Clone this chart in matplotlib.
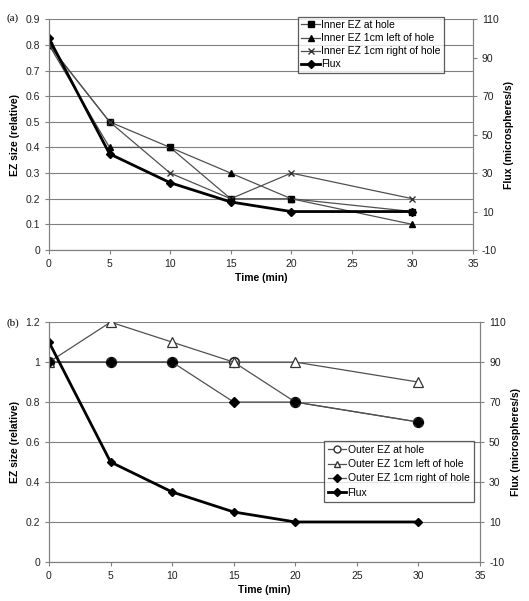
import matplotlib
matplotlib.use("Agg")
import matplotlib.pyplot as plt
from matplotlib.lines import Line2D

plt.rcParams['font.family'] = ['Liberation Sans', 'DejaVu Sans']
plt.rcParams['axes.unicode_minus'] = False

time = [0, 5, 10, 15, 20, 30]

# Panel (a)
inner_hole = [0.8, 0.5, 0.4, 0.2, 0.2, 0.15]
inner_left = [0.8, 0.4, 0.4, 0.3, 0.2, 0.1]
inner_right = [0.8, 0.5, 0.3, 0.2, 0.3, 0.2]
flux_a = [100, 40, 25, 15, 10, 10]

# Panel (b)
outer_hole = [1.0, 1.0, 1.0, 1.0, 0.8, 0.7]
outer_left = [1.0, 1.2, 1.1, 1.0, 1.0, 0.9]
outer_right = [1.0, 1.0, 1.0, 0.8, 0.8, 0.7]
flux_b = [100, 40, 25, 15, 10, 10]

fig = plt.figure(figsize=(5.29, 6.01), dpi=100)

GRAY = '#808080'
LINEC = '#505050'
FS = 7.5


def style_axes(ax, ax2, ylim, yticks, yfmt):
    ax.set_xlim(0, 35)
    ax.set_xticks(range(0, 36, 5))
    ax.set_ylim(*ylim)
    ax.set_yticks(yticks)
    ax.set_yticklabels([yfmt(v) for v in yticks])
    ax2.set_ylim(-10, 110)
    ax2.set_yticks(range(-10, 111, 20))
    for a in (ax, ax2):
        for s in a.spines.values():
            s.set_color(GRAY)
            s.set_linewidth(0.8)
        a.spines['top'].set_visible(False)
        a.tick_params(colors=GRAY, labelcolor='#222222', labelsize=FS, length=3, width=0.8)
    ax.yaxis.grid(True, color=GRAY, linewidth=0.8)
    ax.set_axisbelow(True)
    ax.set_xlabel('Time (min)', fontsize=FS, fontweight='bold', labelpad=3)
    ax.set_ylabel('EZ size (relative)', fontsize=FS, fontweight='bold', labelpad=4)
    ax2.set_ylabel('Flux (microspheres/s)', fontsize=FS, fontweight='bold', labelpad=4)


# ---------- (a) ----------
axa = fig.add_axes([0.0926, 0.584, 0.8014, 0.384])
axa2 = axa.twinx()
style_axes(axa, axa2, (0, 0.9), [i / 10 for i in range(10)],
           lambda v: '0' if v == 0 else f'{v:.1f}')
l1, = axa.plot(time, inner_hole, color=LINEC, lw=0.9, marker='s', ms=5,
               mfc='black', mec='black', label='Inner EZ at hole')
l2, = axa.plot(time, inner_left, color=LINEC, lw=0.9, marker='^', ms=5,
               mfc='black', mec='black', label='Inner EZ 1cm left of hole')
l3, = axa.plot(time, inner_right, color=LINEC, lw=0.9, marker='x', ms=5,
               mfc='black', mec='#333333', mew=1, label='Inner EZ 1cm right of hole')
l4, = axa2.plot(time, flux_a, color='black', lw=2, marker='D', ms=4,
                mfc='black', mec='black', label='Flux')
leg = axa2.legend(handles=[l1, l2, l3, l4], loc='upper left',
                  bbox_to_anchor=(0.588, 1.01), fontsize=FS, frameon=True,
                  fancybox=False, edgecolor='#333333', borderpad=0.3,
                  labelspacing=0.3, handlelength=1.8, handletextpad=0.1,
                  borderaxespad=0)
leg.get_frame().set_linewidth(0.9)
fig.text(0.012, 0.977, '(a)', fontsize=8, family='Liberation Serif', va='top')

# ---------- (b) ----------
axb = fig.add_axes([0.0926, 0.065, 0.8148, 0.399])
axb2 = axb.twinx()
style_axes(axb, axb2, (0, 1.2), [0, 0.2, 0.4, 0.6, 0.8, 1.0, 1.2],
           lambda v: '0' if v == 0 else ('1' if v == 1 else f'{v:.1f}'))
m1, = axb.plot(time, outer_hole, color=LINEC, lw=0.9, marker='o', ms=7,
               mfc='white', mec='#222222', mew=1.2, label='Outer EZ at hole')
m2, = axb.plot(time, outer_left, color=LINEC, lw=0.9, marker='^', ms=7,
               mfc='white', mec='#333333', mew=0.9, label='Outer EZ 1cm left of hole')
m3, = axb.plot(time, outer_right, color=LINEC, lw=0.9, marker='D', ms=5.5,
               mfc='black', mec='black', label='Outer EZ 1cm right of hole')
m4, = axb2.plot(time, flux_b, color='black', lw=2, marker='D', ms=4,
                mfc='black', mec='black', label='Flux')
h1 = Line2D([], [], color=LINEC, lw=0.9, marker='o', ms=5, mfc='white', mec='#333333')
h2 = Line2D([], [], color=LINEC, lw=0.9, marker='^', ms=5, mfc='white', mec='#333333')
h3 = Line2D([], [], color=LINEC, lw=0.9, marker='D', ms=4, mfc='black', mec='black')
leg2 = axb2.legend(handles=[h1, h2, h3, m4],
                   labels=['Outer EZ at hole', 'Outer EZ 1cm left of hole',
                           'Outer EZ 1cm right of hole', 'Flux'],
                   loc='upper left', bbox_to_anchor=(0.637, 0.505), fontsize=FS,
                   frameon=True, fancybox=False, edgecolor='#333333',
                   borderpad=0.4, labelspacing=0.4, handlelength=1.8,
                   handletextpad=0.1, borderaxespad=0)
leg2.get_frame().set_linewidth(0.9)
fig.text(0.012, 0.470, '(b)', fontsize=8, family='Liberation Serif', va='top')

fig.savefig('out.png', dpi=100)
